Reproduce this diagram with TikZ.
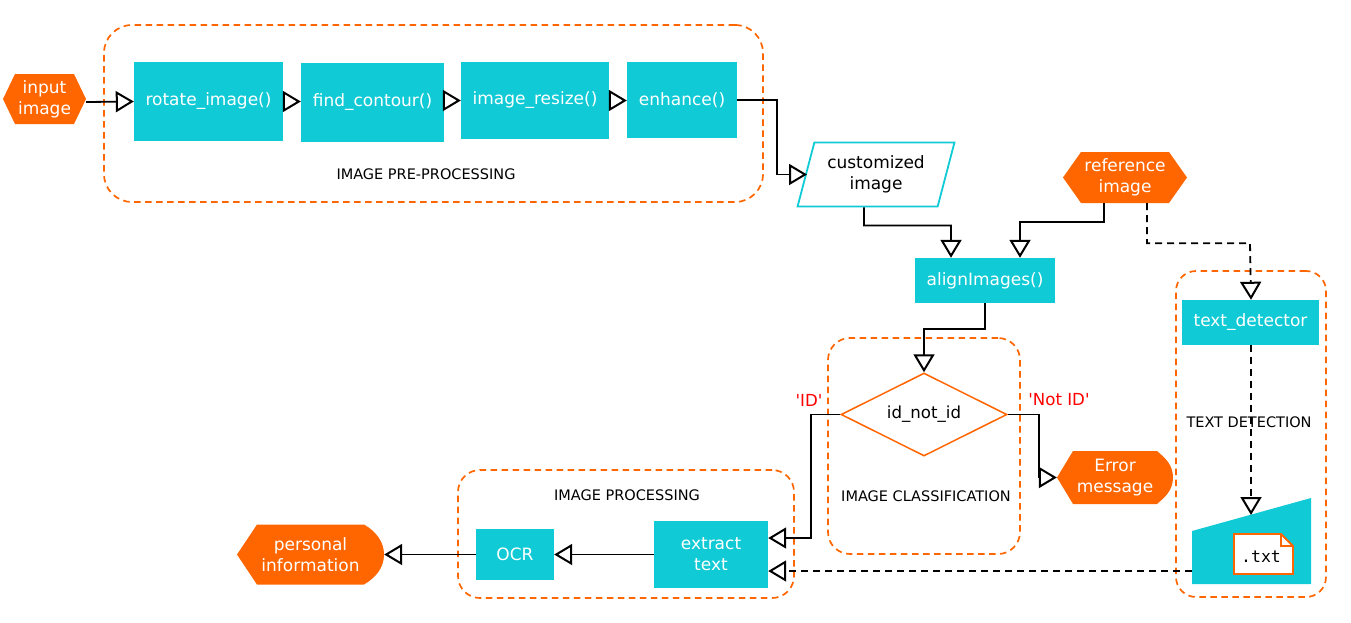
\documentclass[tikz,border=0pt]{standalone}
\usepackage{xcolor}
\usepackage{fontspec}
\setmainfont{DejaVu Sans}
\setmonofont{DejaVu Sans Mono}
\newfontfamily\casefont{DejaVu Sans}
\usetikzlibrary{arrows.meta, shapes.geometric}
\definecolor{procblue}{HTML}{10CAD6}
\definecolor{termorange}{HTML}{FF6600}

\tikzset{
    procbox/.style={fill=procblue, text=white, inner sep=0pt, align=center,
        font=\fontsize{17pt}{21pt}\selectfont},
    hexbox/.style={inner sep=0pt, text=white, align=center,
        font=\fontsize{17pt}{21pt}\selectfont,
        path picture={\fill[termorange]
            (path picture bounding box.west)
            -- ([xshift=#1]path picture bounding box.north west)
            -- ([xshift=-#1]path picture bounding box.north east)
            -- (path picture bounding box.east)
            -- ([xshift=-#1]path picture bounding box.south east)
            -- ([xshift=#1]path picture bounding box.south west) -- cycle;}},
    dispbox/.style={inner sep=0pt, text=white, align=center,
        font=\fontsize{17pt}{21pt}\selectfont,
        path picture={\fill[termorange]
            (path picture bounding box.west)
            -- ([xshift=#1]path picture bounding box.north west)
            -- ([xshift=-#1]path picture bounding box.north east)
            .. controls ([xshift=-8pt,yshift=-7pt]path picture bounding box.north east)
            and ([yshift=13pt]path picture bounding box.east) .. (path picture bounding box.east)
            .. controls ([yshift=-13pt]path picture bounding box.east)
            and ([xshift=-8pt,yshift=7pt]path picture bounding box.south east)
            .. ([xshift=-#1]path picture bounding box.south east)
            -- ([xshift=#1]path picture bounding box.south west) -- cycle;}},
    groupbox/.style={draw=termorange, line width=1.7pt, inner sep=0pt,
        dash pattern=on 6.5pt off 4.5pt},
    grouplabel/.style={inner sep=0pt, font=\fontsize{14.5pt}{17pt}\selectfont},
    flow/.style={draw=black, line width=1.8pt,
        -{Triangle[open, length=18pt, width=21pt, line width=2pt]}},
    flowdash/.style={flow, dash pattern=on 7pt off 5pt},
    caselabel/.style={inner sep=0pt, text=red, font=\casefont\fontsize{16.6pt}{20pt}\selectfont}
}

\begin{document}
\begin{tikzpicture}[x=1pt, y=-1pt]
    \useasboundingbox (0,0) rectangle (1351,622);

    % dashed groups
    \node[groupbox, rounded corners=28pt, minimum width=659pt, minimum height=177pt] (preproc) at (433.5,113.5) {};
    \node[groupbox, rounded corners=22pt, minimum width=192pt, minimum height=216pt] (classif) at (924,446) {};
    \node[groupbox, rounded corners=22pt, minimum width=336pt, minimum height=128pt] (imgproc) at (626,534) {};
    \node[groupbox, rounded corners=20pt, minimum width=150pt, minimum height=326pt] (textdet) at (1251,434) {};
    \node[grouplabel] (preproclabel) at (426,174) {IMAGE PRE-PROCESSING};
    \node[grouplabel] (classiflabel) at (926,496) {IMAGE CLASSIFICATION};
    \node[grouplabel] (imgproclabel) at (627,495) {IMAGE PROCESSING};
    \node[grouplabel] (textdetlabel) at (1249,422) {TEXT DETECTION};

    % nodes
    \node[hexbox=12pt, minimum width=83pt, minimum height=50pt] (inputimg) at (44.5,99) {input\\image};
    \node[procbox, minimum width=149pt, minimum height=79pt] (rotate) at (208.5,101.5) {rotate\_image()};
    \node[procbox, minimum width=143pt, minimum height=79pt] (contour) at (372.5,102.5) {find\_contour()};
    \node[procbox, minimum width=148pt, minimum height=77pt] (resize) at (535,100.5) {image\_resize()};
    \node[procbox, minimum width=110pt, minimum height=76pt] (enhance) at (682,100) {enhance()};
    \node[trapezium, trapezium stretches=true, trapezium left angle=70.5, trapezium right angle=109.5,
          draw=procblue, line width=1.8pt, inner sep=0pt, align=center,
          minimum width=157pt, minimum height=64pt,
          font=\fontsize{17pt}{21pt}\selectfont] (customized) at (876,174.5) {customized\\image};
    \node[hexbox=18pt, minimum width=124pt, minimum height=51pt] (refimg) at (1125,177.5) {reference\\image};
    \node[procbox, minimum width=140pt, minimum height=45pt] (align) at (985,280.5) {alignImages()};
    \node[procbox, minimum width=137pt, minimum height=45pt] (detector) at (1250.5,322.5) {text\_detector};
    \node[diamond, draw=termorange, line width=1.5pt, aspect=2, inner sep=0pt,
          minimum width=166pt, minimum height=83pt,
          font=\fontsize{16.6pt}{20pt}\selectfont] (idnot) at (924,414.5) {id\_not\_id};
    \node[dispbox=16pt, minimum width=116pt, minimum height=53pt] (errmsg) at (1115,477.5) {Error\\message};
    \node[procbox, minimum width=114pt, minimum height=67pt] (extract) at (711,554.5) {extract\\text};
    \node[procbox, minimum width=78pt, minimum height=51pt] (ocr) at (515,554.5) {OCR};
    \node[dispbox=20pt, minimum width=147pt, minimum height=60pt] (personal) at (310.5,554.5) {personal\\information};
    \node[inner sep=0pt, minimum width=119pt, minimum height=86pt,
          path picture={\fill[procblue]
              ([yshift=-33pt]path picture bounding box.north west)
              -- (path picture bounding box.north east)
              -- (path picture bounding box.south east)
              -- (path picture bounding box.south west) -- cycle;}] (filedoc) at (1251.5,541) {};
    \fill[white, draw=termorange, line width=1.8pt] (1234,534) -- (1281,534) -- (1293,546) -- (1293,574) -- (1234,574) -- cycle;
    \draw[termorange, line width=1.2pt] (1281,534) -- (1281,546) -- (1293,546);
    \node[inner sep=0pt, font=\ttfamily\fontsize{16.5pt}{18pt}\selectfont] (txtnote) at (1261,557) {.txt};
    \coordinate (filetop) at (1251,515);

    \node[caselabel] (idlabel) at (809,400) {'ID'};
    \node[caselabel] (notidlabel) at (1059,400) {'Not ID'};

    % connectors
    \draw[flow] ([yshift=-3pt]inputimg.east) -- (rotate.west);
    \draw[flow] (rotate.east) -- (contour.west |- rotate.east);
    \draw[flow] (contour.east |- resize.east) -- (resize.west);
    \draw[flow] (resize.east) -- (enhance.west |- resize.east);
    \draw[flow] (enhance.east) -- ++(40,0) |- ([xshift=2pt]customized.west);
    \draw[flow] ([xshift=-12pt]customized.south) |- ++(87,18) -- ([xshift=-34pt]align.north);
    \draw[flow] ([xshift=-21pt]refimg.south) |- ++(-84,19) -- ([xshift=35pt]align.north);
    \draw[flowdash] ([xshift=22pt]refimg.south) |- ++(103,40) -- (detector.north -| filetop);
    \draw[flow] (align.south) |- ++(-61,26) -- (idnot.north);
    \draw[flow] (idnot.west) -- ++(-29,0) |- ([yshift=16.5pt]extract.east);
    \draw[flow] (idnot.east) -- ++(31,0) |- (errmsg.west);
    \draw[flowdash] (detector.south -| filetop) -- (filetop);
    \draw[flowdash] ([yshift=-30pt]filedoc.west) -- ([yshift=-16.5pt]extract.east);
    \draw[flow] (extract.west) -- (ocr.east);
    \draw[flow] (ocr.west) -- (personal.east);
\end{tikzpicture}
\end{document}
